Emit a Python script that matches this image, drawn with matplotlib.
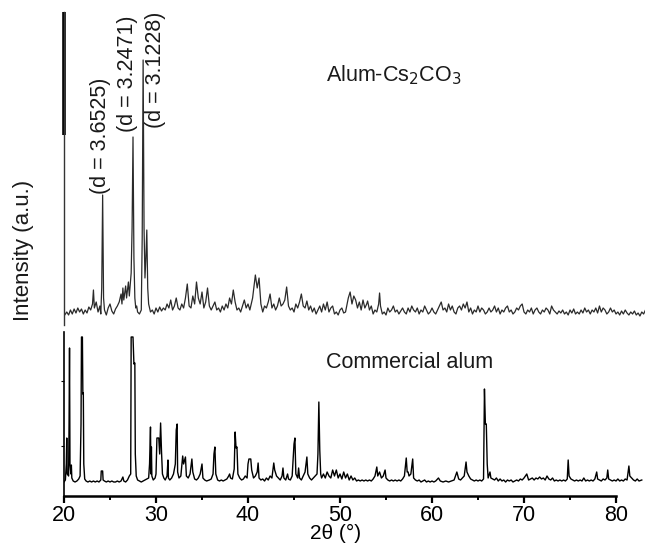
import matplotlib
matplotlib.use("Agg")
import matplotlib.pyplot as plt

plt.rcParams['font.family'] = ['Liberation Sans', 'DejaVu Sans']

# ---- Data: Alum-Cs2CO3 (top trace) ----
top_x = [20.0, 20.3, 20.5, 20.7, 20.9, 21.1, 21.3, 21.5, 21.7, 21.9, 22.1, 22.3, 22.5, 22.7, 22.9,
         23.1, 23.2, 23.3, 23.5, 23.7, 23.9, 24.0, 24.1, 24.2, 24.3, 24.4, 24.6, 24.8, 25.0, 25.2,
         25.4, 25.6, 25.8, 26.0, 26.2, 26.3, 26.4, 26.5, 26.7, 26.8, 27.0, 27.1, 27.3, 27.4, 27.5,
         27.6, 27.7, 27.8, 27.9, 28.0, 28.2, 28.4, 28.5, 28.6, 28.7, 28.8, 28.9, 29.0, 29.1, 29.2,
         29.4, 29.6, 29.8, 30.0, 30.2, 30.4, 30.6, 30.8, 31.0, 31.2, 31.4, 31.6, 31.8, 32.0, 32.2,
         32.4, 32.6, 32.8, 33.0, 33.2, 33.4, 33.6, 33.8, 34.0, 34.2, 34.4, 34.6, 34.8, 35.0, 35.2,
         35.4, 35.6, 35.8, 36.0, 36.2, 36.4, 36.6, 36.8, 37.0, 37.2, 37.4, 37.6, 37.8, 38.0, 38.2,
         38.4, 38.6, 38.8, 39.0, 39.2, 39.4, 39.6, 39.8, 40.0, 40.2, 40.5, 40.8, 41.0, 41.2, 41.4,
         41.6, 41.8, 42.0, 42.2, 42.4, 42.6, 42.8, 43.0, 43.2, 43.4, 43.6, 43.8, 44.0, 44.2, 44.4,
         44.6, 44.8, 45.0, 45.2, 45.4, 45.6, 45.8, 46.0, 46.2, 46.4, 46.6, 46.8, 47.0, 47.2, 47.4,
         47.6, 47.8, 48.0, 48.2, 48.4, 48.6, 48.8, 49.0, 49.2, 49.4, 49.6, 49.8, 50.0, 50.2, 50.4,
         50.6, 50.9, 51.1, 51.3, 51.5, 51.7, 51.9, 52.1, 52.3, 52.5, 52.7, 52.9, 53.0, 53.2, 53.4,
         53.6, 53.8, 54.0, 54.2, 54.3, 54.4, 54.6, 54.8, 55.0, 55.2, 55.4, 55.6, 55.8, 56.0, 56.2,
         56.4, 56.6, 56.8, 57.0, 57.2, 57.4, 57.6, 57.8, 58.0, 58.2, 58.4, 58.6, 58.8, 59.0, 59.2,
         59.4, 59.6, 59.8, 60.0, 60.2, 60.4, 60.6, 60.8, 61.0, 61.2, 61.4, 61.6, 61.8, 62.0, 62.2,
         62.4, 62.6, 62.8, 63.0, 63.2, 63.4, 63.6, 63.8, 64.0, 64.2, 64.4, 64.6, 64.8, 65.0, 65.2,
         65.4, 65.6, 65.8, 66.0, 66.2, 66.4, 66.6, 66.8, 67.0, 67.2, 67.4, 67.6, 67.8, 68.0, 68.2,
         68.4, 68.6, 68.8, 69.0, 69.2, 69.4, 69.6, 69.8, 70.0, 70.2, 70.4, 70.6, 70.8, 71.0, 71.2,
         71.4, 71.6, 71.8, 72.0, 72.2, 72.4, 72.6, 72.8, 73.0, 73.2, 73.4, 73.6, 73.8, 74.0, 74.2,
         74.4, 74.6, 74.8, 75.0, 75.2, 75.4, 75.6, 75.8, 76.0, 76.2, 76.4, 76.6, 76.8, 77.0, 77.2,
         77.4, 77.6, 77.8, 78.0, 78.2, 78.4, 78.6, 78.8, 79.0, 79.2, 79.4, 79.6, 79.8, 80.0, 80.2,
         80.4, 80.6, 80.8, 81.0, 81.2, 81.4, 81.6, 81.8, 82.0, 82.2, 82.4, 82.6, 82.8, 83.0, 83.2]
top_y = [2, 6, 3, 8, 4, 9, 5, 10, 6, 9, 4, 8, 5, 11, 8,
         14, 28, 10, 16, 6, 12, 4, 30, 123, 20, 8, 3, 10, 14, 7,
         4, 9, 12, 16, 24, 14, 30, 18, 32, 20, 36, 22, 45, 90, 181,
         60, 20, 10, 12, 6, 4, 8, 80, 258, 90, 40, 60, 88, 30, 14,
         6, 8, 4, 10, 6, 11, 7, 10, 8, 14, 10, 18, 8, 12, 20,
         10, 8, 14, 10, 20, 34, 12, 10, 22, 14, 36, 20, 14, 26, 10,
         16, 30, 12, 8, 12, 16, 8, 10, 6, 12, 8, 14, 10, 20, 14,
         28, 16, 8, 10, 6, 12, 18, 10, 14, 8, 20, 43, 30, 40, 14,
         6, 12, 10, 16, 24, 10, 14, 8, 12, 20, 12, 14, 18, 31, 12,
         8, 10, 6, 14, 10, 16, 24, 12, 10, 17, 8, 12, 6, 10, 4,
         8, 12, 6, 14, 8, 16, 6, 10, 12, 4, 6, 3, 8, 10, 5,
         6, 20, 26, 14, 22, 18, 10, 16, 8, 18, 10, 14, 17, 8, 12,
         4, 8, 6, 14, 25, 12, 4, 6, 3, 10, 6, 8, 12, 6, 8,
         4, 7, 10, 6, 4, 10, 6, 12, 8, 6, 10, 4, 8, 6, 12,
         8, 4, 6, 10, 6, 4, 8, 12, 16, 8, 10, 6, 14, 8, 12,
         6, 4, 10, 12, 8, 14, 10, 16, 6, 10, 4, 8, 6, 12, 6,
         10, 8, 4, 6, 10, 6, 8, 12, 6, 10, 4, 8, 6, 10, 12,
         6, 8, 4, 6, 10, 8, 12, 14, 6, 4, 8, 6, 10, 4, 8,
         10, 6, 4, 8, 6, 10, 8, 4, 12, 8, 6, 4, 7, 5, 8,
         4, 6, 3, 8, 5, 9, 4, 6, 4, 8, 5, 10, 6, 8, 4,
         8, 6, 10, 5, 12, 6, 10, 8, 4, 6, 10, 6, 8, 4, 6,
         3, 7, 4, 8, 5, 3, 6, 4, 7, 3, 5, 2, 6, 4, 8]

# ---- Data: Commercial alum (bottom trace) ----
bot_x = [20.0, 20.15, 20.25, 20.3, 20.35, 20.5, 20.55, 20.6, 20.65, 20.75, 20.8, 20.85, 21.0, 21.2, 21.4,
         21.6, 21.75, 21.85, 21.9, 22.0, 22.05, 22.1, 22.15, 22.25, 22.4, 22.6, 22.8, 23.0, 23.2, 23.4,
         23.6, 23.8, 24.0, 24.05, 24.2, 24.25, 24.4, 24.6, 24.8, 25.0, 25.2, 25.4, 25.6, 25.8, 26.0,
         26.2, 26.4, 26.5, 26.7, 26.9, 27.1, 27.25, 27.3, 27.5, 27.6, 27.7, 27.75, 27.85, 28.0, 28.2,
         28.4, 28.6, 28.8, 29.0, 29.2, 29.3, 29.4, 29.45, 29.5, 29.55, 29.7, 29.9, 30.0, 30.1, 30.3,
         30.4, 30.5, 30.6, 30.7, 30.85, 31.0, 31.2, 31.3, 31.35, 31.5, 31.7, 31.9, 32.1, 32.2, 32.3,
         32.35, 32.5, 32.7, 32.9, 33.0, 33.2, 33.3, 33.5, 33.7, 33.9, 34.0, 34.2, 34.4, 34.6, 34.8,
         35.0, 35.1, 35.3, 35.5, 35.8, 36.0, 36.2, 36.3, 36.4, 36.5, 36.7, 36.9, 37.1, 37.3, 37.5,
         37.7, 37.9, 38.0, 38.1, 38.3, 38.5, 38.6, 38.7, 38.8, 38.9, 39.1, 39.3, 39.5, 39.7, 39.9,
         40.0, 40.1, 40.3, 40.4, 40.6, 40.8, 41.0, 41.1, 41.2, 41.4, 41.6, 41.8, 42.0, 42.2, 42.4,
         42.6, 42.8, 42.9, 43.1, 43.3, 43.5, 43.7, 43.8, 43.9, 44.1, 44.3, 44.4, 44.6, 44.8, 45.0,
         45.1, 45.2, 45.4, 45.5, 45.6, 45.8, 46.0, 46.2, 46.4, 46.5, 46.7, 46.9, 47.1, 47.3, 47.5,
         47.6, 47.7, 47.8, 47.9, 48.0, 48.2, 48.4, 48.6, 48.8, 49.0, 49.2, 49.4, 49.6, 49.8, 50.0,
         50.2, 50.4, 50.6, 50.8, 51.0, 51.2, 51.4, 51.6, 51.8, 52.0, 52.2, 52.4, 52.6, 52.8, 53.0,
         53.2, 53.4, 53.6, 53.8, 54.0, 54.1, 54.3, 54.5, 54.7, 54.9, 55.0, 55.2, 55.4, 55.6, 55.8,
         56.0, 56.2, 56.4, 56.6, 56.8, 57.0, 57.2, 57.3, 57.4, 57.5, 57.7, 57.9, 58.0, 58.2, 58.4,
         58.6, 58.8, 59.0, 59.2, 59.4, 59.6, 59.8, 60.0, 60.2, 60.4, 60.7, 60.9, 61.2, 61.5, 61.8,
         62.1, 62.4, 62.7, 62.9, 63.1, 63.3, 63.5, 63.7, 63.8, 64.0, 64.2, 64.4, 64.6, 64.8, 65.0,
         65.2, 65.4, 65.6, 65.7, 65.8, 65.9, 66.0, 66.1, 66.3, 66.4, 66.6, 66.8, 67.0, 67.2, 67.4,
         67.6, 67.8, 68.0, 68.2, 68.4, 68.6, 68.8, 69.0, 69.2, 69.4, 69.6, 69.8, 70.0, 70.3, 70.5,
         70.7, 70.9, 71.1, 71.3, 71.5, 71.7, 71.9, 72.1, 72.3, 72.5, 72.7, 72.9, 73.1, 73.3, 73.5,
         73.7, 73.9, 74.1, 74.3, 74.5, 74.7, 74.8, 74.9, 75.1, 75.3, 75.5, 75.7, 75.9, 76.1, 76.3,
         76.5, 76.7, 76.9, 77.1, 77.3, 77.5, 77.7, 77.9, 78.0, 78.2, 78.4, 78.6, 78.8, 79.0, 79.1,
         79.2, 79.4, 79.6, 79.8, 80.0, 80.2, 80.4, 80.6, 80.8, 81.0, 81.2, 81.4, 81.5, 81.7, 81.9,
         82.1, 82.3, 82.5, 82.8]
bot_y = [2, 4, 20, 46, 10, 8, 60, 136, 20, 10, 19, 6, 3, 2, 3,
         5, 8, 60, 147, 147, 90, 91, 20, 5, 3, 2, 3, 2, 3, 2,
         3, 2, 4, 13, 13, 4, 3, 2, 3, 2, 3, 2, 2, 3, 2,
         3, 7, 3, 2, 4, 8, 10, 147, 147, 120, 121, 30, 8, 4, 3,
         2, 3, 4, 5, 6, 20, 57, 10, 37, 8, 4, 6, 10, 46, 46,
         30, 61, 32, 10, 6, 4, 8, 24, 6, 4, 6, 10, 20, 54, 60,
         12, 6, 8, 28, 20, 27, 8, 6, 10, 25, 12, 5, 4, 6, 10,
         20, 6, 4, 3, 4, 5, 10, 30, 37, 10, 4, 3, 4, 3, 4,
         5, 8, 10, 6, 5, 15, 52, 36, 37, 10, 6, 4, 5, 8, 6,
         20, 25, 25, 14, 6, 8, 12, 21, 6, 4, 5, 3, 6, 4, 8,
         6, 21, 14, 8, 6, 4, 8, 16, 6, 4, 10, 5, 4, 8, 40,
         46, 10, 6, 16, 6, 4, 8, 12, 27, 10, 6, 4, 6, 8, 10,
         30, 82, 34, 10, 6, 10, 6, 12, 8, 6, 14, 8, 14, 6, 10,
         5, 12, 6, 10, 4, 8, 4, 6, 3, 4, 3, 4, 3, 4, 3,
         4, 3, 5, 8, 17, 8, 12, 6, 8, 14, 6, 4, 3, 4, 3,
         4, 3, 4, 3, 5, 8, 26, 12, 12, 8, 10, 25, 6, 4, 3,
         4, 2, 3, 4, 2, 3, 2, 3, 2, 3, 6, 3, 2, 3, 2,
         3, 4, 12, 5, 4, 6, 8, 22, 12, 8, 5, 4, 3, 4, 3,
         4, 3, 5, 95, 60, 60, 20, 6, 12, 6, 5, 4, 6, 3, 5,
         3, 4, 2, 4, 3, 4, 2, 3, 4, 3, 5, 4, 6, 10, 4,
         5, 6, 4, 6, 5, 7, 5, 6, 4, 8, 5, 4, 6, 3, 4,
         3, 4, 3, 4, 3, 5, 24, 8, 5, 4, 3, 4, 3, 4, 3,
         6, 3, 4, 3, 4, 3, 5, 12, 5, 4, 3, 5, 4, 6, 14,
         5, 4, 3, 4, 3, 5, 3, 4, 3, 5, 4, 18, 8, 6, 4,
         3, 5, 3, 4]

# Peak annotations (top trace)
ann_text = ["(d = 3.6525)", "(d = 3.2471)", "(d = 3.1228)"]
ann_x = [24.0, 26.85, 29.9]
ann_y = [124, 186, 190]

x_ticks = [20, 30, 40, 50, 60, 70, 80]
x_minor = [25, 35, 45, 55, 65, 75]

FS = 15.5

fig = plt.figure(figsize=(6.45, 5.46), dpi=100)
ax_top = fig.add_axes([64/645, 1 - 325/546, 581/645, 313/546])
ax_bot = fig.add_axes([64/645, 1 - 496/546, 581/645, 164/546])

xlim = (20, 83.15)

# top panel
ax_top.plot(top_x, top_y, color='#2a2a2a', lw=0.9)
ax_top.set_xlim(*xlim)
ax_top.set_ylim(-7, 306)
for s in ['top', 'right', 'bottom']:
    ax_top.spines[s].set_visible(False)
ax_top.spines['left'].set_linewidth(1.0)
ax_top.spines['left'].set_color('#333333')
ax_top.set_xticks([])
ax_top.set_yticks([])
ax_top.plot([0, 0], [1 - 123/313, 1], transform=ax_top.transAxes, color='black',
            lw=2.6, clip_on=False, solid_capstyle='butt')
for t, x, y in zip(ann_text, ann_x, ann_y):
    ax_top.text(x, y, t, rotation=90, ha='center', va='bottom', fontsize=FS, color='#1a1a1a')
ax_top.text(48.5, 243, "Alum-Cs$_2$CO$_3$", fontsize=FS, ha='left', va='center', color='#1a1a1a')

# bottom panel
ax_bot.plot(bot_x, bot_y, color='black', lw=1.0)
ax_bot.set_xlim(*xlim)
ax_bot.set_ylim(-12, 152)
for s in ['top', 'right']:
    ax_bot.spines[s].set_visible(False)
ax_bot.spines['bottom'].set_bounds(20, 80)
ax_bot.spines['bottom'].set_linewidth(1.8)
ax_bot.spines['left'].set_linewidth(1.2)
ax_bot.set_xticks(x_ticks)
ax_bot.set_xticks(x_minor, minor=True)
ax_bot.tick_params(axis='x', which='major', direction='out', length=5, width=1.6,
                   labelsize=FS, pad=1.5)
ax_bot.tick_params(axis='x', which='minor', direction='out', length=3, width=1.4)
ax_bot.set_yticks([38, 103])
ax_bot.set_yticklabels([])
ax_bot.tick_params(axis='y', direction='out', length=2, width=0.8)
ax_bot.text(48.5, 121, "Commercial alum", fontsize=FS, ha='left', va='center', color='#1a1a1a')
ax_bot.set_xlabel("2θ (°)", fontsize=15)
ax_bot.xaxis.set_label_coords((336 - 64) / 581, (496 - 524) / 164)

fig.text(23/645, 1 - 250/546, "Intensity (a.u.)", rotation=90, ha='center', va='center',
         fontsize=16, color='#1a1a1a')

fig.savefig("out.png", dpi=100)
